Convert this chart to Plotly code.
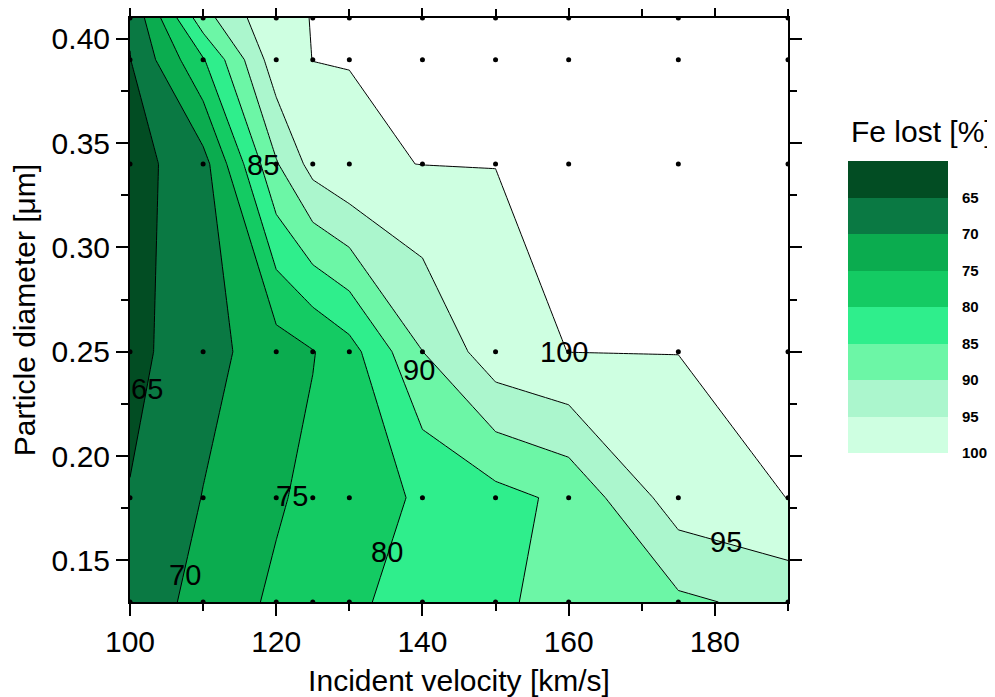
import plotly.graph_objects as go

# ---------------- data ----------------
velocity = [100, 110, 120, 125, 130, 140, 150, 160, 175, 190]        # km/s
diameter = [0.13, 0.18, 0.25, 0.34, 0.39, 0.41]                      # um

# Fe lost [%] : one row per diameter, one column per velocity
fe_013 = [67.1, 71.5, 75.9, 77.4, 79.1, 81.8, 84.3, 86.3, 89.0, 91.6]
fe_018 = [65.2, 70.1, 74.3, 76.3, 77.7, 80.6, 83.3, 86.1, 97.6, 100.0]
fe_025 = [63.4, 68.2, 72.5, 74.7, 78.0, 89.9, 98.0, 100.0, 100.0, 100.0]
fe_034 = [63.0, 68.0, 89.5, 96.8, 99.5, 100.0, 100.0, 100.0, 100.0, 100.0]
fe_039 = [64.8, 79.5, 98.0, 100.0, 100.0, 100.0, 100.0, 100.0, 100.0, 100.0]
fe_041 = [65.5, 88.0, 99.5, 100.0, 100.0, 100.0, 100.0, 100.0, 100.0, 100.0]
fe_lost = [fe_013, fe_018, fe_025, fe_034, fe_039, fe_041]

levels = [65, 70, 75, 80, 85, 90, 95, 100]

# band colours: below 65, 65-70, ..., 95-100, above 100
band_colors = ['#024d23', '#0a7943', '#0bac4f', '#14cb63', '#2fee8c',
               '#6cf6a6', '#abf6cd', '#ceffe1', '#ffffff']

# contour line labels (text, velocity, diameter)
label_text = ['65', '70', '75', '80', '85', '90', '95', '100']
label_x = [102.3, 107.5, 122.2, 135.2, 118.2, 139.5, 181.5, 159.3]
label_y = [0.232, 0.143, 0.181, 0.154, 0.3396, 0.241, 0.159, 0.25]

FONT = 'Liberation Sans, Arial, sans-serif'

# ---------------- geometry (screen px; page body has an 8px margin) ----------------
OFF = 8
SW, SH = 995, 697
W, H = SW - OFF, SH - OFF
PL, PR, PT, PB = 130, 788, 18, 602          # plot box on screen
ml, mt = PL - OFF, PT - OFF
mb = H - (PB - OFF)
mr = 30
pw, ph = W - ml - mr, H - mt - mb


def fx(p):
    return (p - OFF - ml) / pw


def fy(p):
    return (H - mb - (p - OFF)) / ph


# ---------------- figure ----------------
step = levels[1] - levels[0]
n = len(band_colors) - 1
colorscale = [[k / n, c] for k, c in enumerate(band_colors)]

fig = go.Figure()

fig.add_trace(go.Contour(
    x=velocity, y=diameter, z=fe_lost,
    autocontour=False,
    contours=dict(start=levels[0] - 0.05, end=levels[-1] - 0.05, size=step,
                  coloring='fill', showlines=True, showlabels=False),
    colorscale=colorscale,
    line=dict(color='black', width=1, smoothing=0),
    showscale=False, hoverinfo='skip',
    xaxis='x', yaxis='y'))

# data points
px, py = [], []
for yi in diameter:
    for xi in velocity:
        px.append(xi)
        py.append(yi)
fig.add_trace(go.Scatter(x=px, y=py, mode='markers',
                         marker=dict(color='black', size=5),
                         showlegend=False, hoverinfo='skip',
                         xaxis='x', yaxis='y'))

# colour bar drawn as a heatmap (darkest band on top)
rev_levels = list(reversed(levels))
bar_z = [[lv - step / 2] for lv in rev_levels]
bar_y = [i + 0.5 for i in range(len(rev_levels))]
fig.add_trace(go.Heatmap(
    x=[0], y=bar_y, z=bar_z,
    colorscale=colorscale,
    zmin=levels[0] - step / 2, zmax=levels[-1] + step / 2,
    showscale=False, hoverinfo='skip',
    xaxis='x2', yaxis='y2'))

for t, xx, yy in zip(label_text, label_x, label_y):
    fig.add_annotation(x=xx, y=yy, xref='x', yref='y', text=t,
                       showarrow=False,
                       font=dict(family=FONT, size=29, color='black'))

fig.add_annotation(x=fx(922), y=fy(131), xref='paper', yref='paper',
                   xanchor='center', yanchor='middle',
                   text='Fe lost [%]', showarrow=False,
                   font=dict(family=FONT, size=30, color='black'))

axis_common = dict(showline=True, linecolor='black', linewidth=2, mirror='ticks',
                   ticks='outside', ticklen=12, tickwidth=2, tickcolor='black',
                   showgrid=False, zeroline=False, automargin=False,
                   tickfont=dict(family=FONT, size=30, color='black'))

fig.update_layout(
    width=W, height=H,
    margin=dict(l=ml, r=mr, t=mt, b=mb, autoexpand=False),
    paper_bgcolor='white', plot_bgcolor='white',
    showlegend=False,
    xaxis=dict(domain=[0, fx(PR)], range=[100, 190], tick0=100, dtick=20,
               minor=dict(dtick=10, ticks='outside', ticklen=7, tickwidth=2,
                          tickcolor='black'),
               title=dict(text='Incident velocity [km/s]', standoff=14,
                          font=dict(family=FONT, size=30, color='black')),
               anchor='y', **axis_common),
    yaxis=dict(domain=[0, 1], range=[0.13, 0.41], tick0=0.15, dtick=0.05,
               tickformat='.2f',
               minor=dict(dtick=0.025, ticks='outside', ticklen=7, tickwidth=2,
                          tickcolor='black'),
               title=dict(text='Particle diameter [μm]', standoff=10,
                          font=dict(family=FONT, size=30, color='black')),
               anchor='x', **axis_common),
    xaxis2=dict(domain=[fx(848), fx(948)], anchor='y2', visible=False,
                range=[-0.5, 0.5], fixedrange=True, automargin=False),
    yaxis2=dict(domain=[fy(453), fy(161)], anchor='x2', side='right',
                range=[0, len(rev_levels)], automargin=False,
                tickvals=list(range(len(rev_levels))),
                ticktext=[str(v) for v in rev_levels],
                ticks='outside', ticklen=10, tickcolor='rgba(0,0,0,0)',
                showline=False, showgrid=False, zeroline=False,
                tickfont=dict(family=FONT, size=15, color='black', weight='bold')),
)

fig.write_html('out.html')
